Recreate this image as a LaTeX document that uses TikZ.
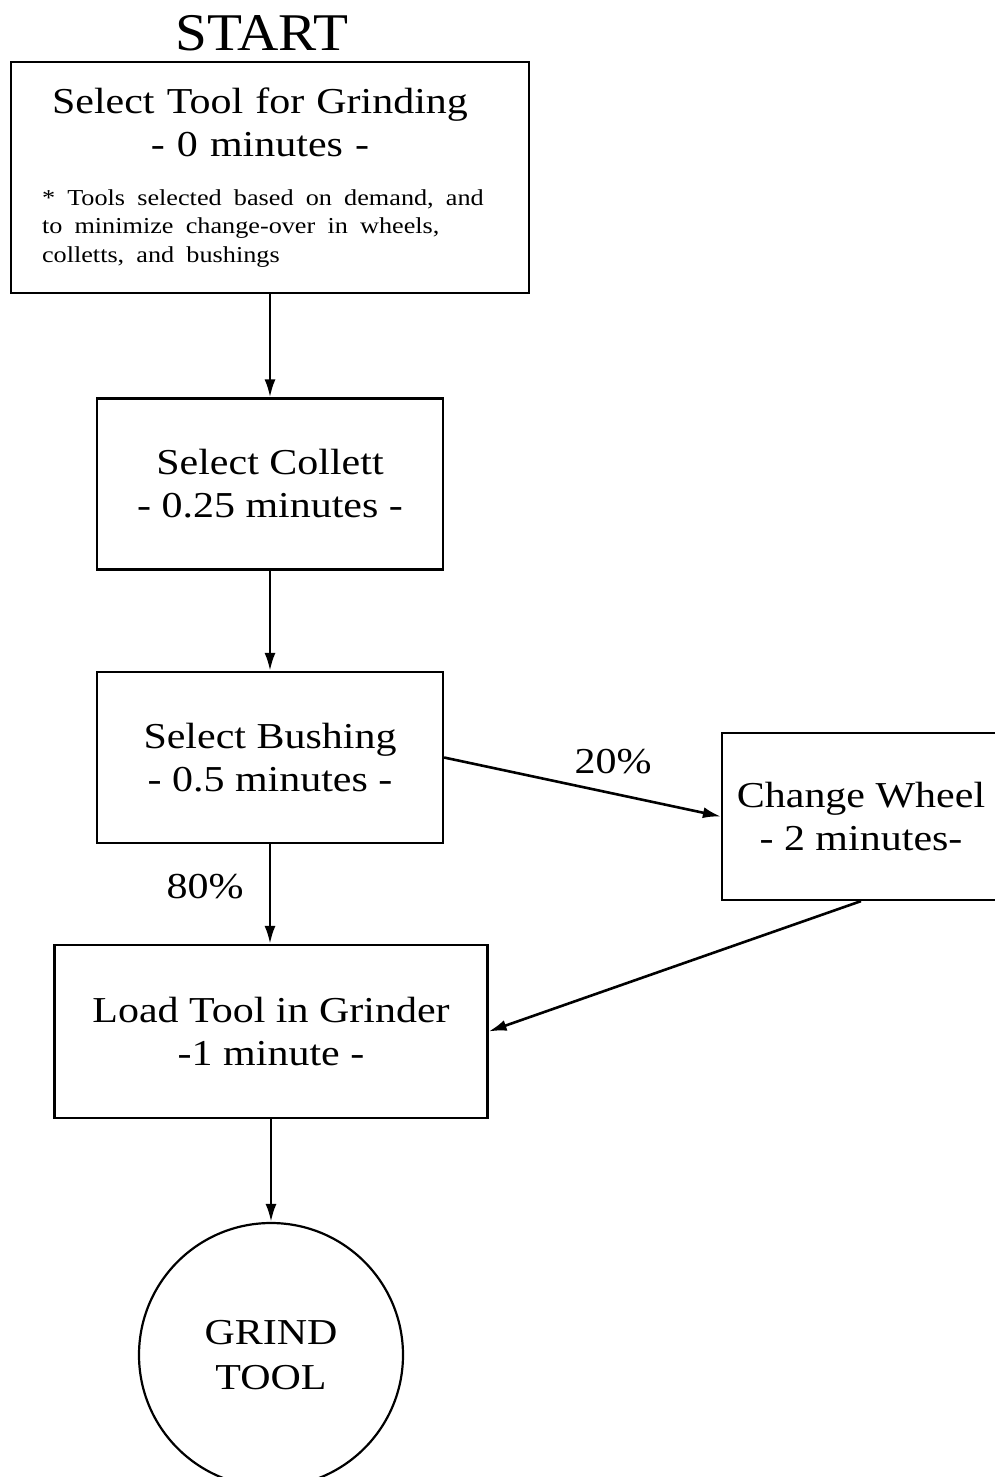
\documentclass[tikz,border=0pt]{standalone}
\usepackage{fontspec}
\setmainfont{Liberation Serif}[FakeStretch=1.15]
\newfontfamily\startfont{Liberation Serif}[FakeStretch=1.08]
\usetikzlibrary{arrows.meta,calc}
\begin{document}
\begin{tikzpicture}[x=1pt,y=-1pt,
  box/.style={draw, line width=2.2pt, rectangle, inner sep=0pt, align=center,
    font=\fontsize{36.5}{43}\selectfont},
  endcircle/.style={draw, line width=2.2pt, circle, inner sep=0pt, align=center,
    font=\fontsize{36.5}{45}\selectfont},
  conn/.style={line width=2.6pt, -{Latex[length=18pt,width=11pt]}},
  lbl/.style={font=\fontsize{36.5}{43}\selectfont, inner sep=0pt}]
\clip (0,0) rectangle (995,1477);
\fill[white] (0,0) rectangle (995,1477);

\node[inner sep=0pt, font=\startfont\fontsize{53}{58}\selectfont] (start) at (262,33) {START};

\node[box, minimum width=518pt, minimum height=231pt, text width=456pt, align=left] (b1) at (270,177.5)
  {\makebox[\linewidth]{Select Tool for Grinding\hspace{20pt}}\\
   \makebox[\linewidth]{- 0 minutes -\hspace{20pt}}\par\vspace{20pt}%
   {\fontsize{22.8}{28.5}\selectfont * Tools selected based on demand, and\\to minimize change-over in wheels,\\colletts, and bushings\par}};

\node[box, minimum width=346pt, minimum height=171pt] (b2) at (270,484)
  {Select Collett\\- 0.25 minutes -};

\node[box, minimum width=346pt, minimum height=171pt] (b3) at (270,757.5)
  {Select Bushing\\- 0.5 minutes -};

\node[box, minimum width=278pt, minimum height=167pt] (b4) at (861,816.5)
  {Change Wheel\\- 2 minutes-};

\node[box, minimum width=433pt, minimum height=173pt] (b5) at (271,1031.5)
  {Load Tool in Grinder\\-1 minute -};

\node[endcircle, minimum size=264pt] (grind) at (271,1355)
  {GRIND\\TOOL};

\draw[conn] (b1.south) -- (b2.north);
\draw[conn] (b2.south) -- (b3.north);
\draw[conn] (b3.east) -- (b4.west);
\draw[conn] (b3.south) -- (b3.south |- b5.north);
\draw[conn] (b4.south) -- (b5.east);
\draw[conn] (b5.south) -- (b5.south |- grind.north);

\node[lbl] (p20) at (613,762) {20\%};
\node[lbl] (p80) at (205,887) {80\%};
\end{tikzpicture}
\end{document}
